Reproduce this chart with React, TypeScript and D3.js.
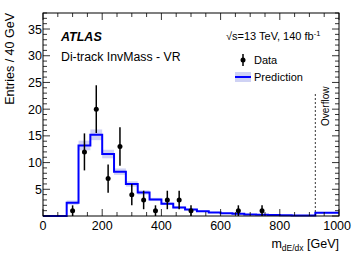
import React from "react";
import * as d3 from "d3";

const binEdges = [0, 40, 80, 120, 160, 200, 240, 280, 320, 360, 400, 440, 480, 520, 560, 600, 640, 680, 720, 760, 800, 840, 880, 920, 1000];
const prediction = [0, 0, 2.5, 13.2, 15.2, 11.6, 8.3, 6.0, 4.4, 3.1, 2.3, 1.6, 1.2, 0.9, 0.65, 0.5, 0.4, 0.3, 0.25, 0.2, 0.15, 0.1, 0.1, 0.6];
const predErr = [0, 0, 0.4, 0.9, 1.0, 0.8, 0.6, 0.5, 0.4, 0.3, 0.25, 0.2, 0.15, 0.12, 0.1, 0.08, 0.07, 0.06, 0.05, 0.05, 0.04, 0.03, 0.03, 0.1];
const dataX = [100, 140, 180, 220, 260, 300, 340, 380, 420, 460, 500, 660, 740];
const dataY = [1, 12, 20, 7, 13, 4, 3, 1, 3, 3, 1, 1, 1];
const xTicks = [0, 200, 400, 600, 800, 1000];
const yTicks = [5, 10, 15, 20, 25, 30, 35];

const W = 357, H = 263;
const L = 43, R = 339, T = 13, B = 216;
const FONT = "'Liberation Sans', Arial, Helvetica, sans-serif";

export default function App() {
  const x = d3.scaleLinear().domain([0, 1000]).range([L, R]);
  const y = d3.scaleLinear().domain([0, 38]).range([B, T]);

  const stepPts: [number, number][] = [];
  prediction.forEach((v, i) => {
    stepPts.push([x(binEdges[i]), y(v)]);
    stepPts.push([x(binEdges[i + 1]), y(v)]);
  });
  const line = d3.line<[number, number]>().x(d => d[0]).y(d => d[1]);

  const xMinor = d3.range(0, 1001, 50);
  const yMinor = d3.range(0, 39, 1);

  return (
    <svg width={W} height={H} style={{ position: "absolute", left: 0, top: 0, background: "#fff" }}>
      {prediction.map((v, i) => (
        predErr[i] > 0 ? (
          <rect key={"b" + i} x={x(binEdges[i])} y={y(v + predErr[i])}
            width={x(binEdges[i + 1]) - x(binEdges[i])}
            height={y(v - predErr[i]) - y(v + predErr[i])}
            fill="#cfd2f4" />
        ) : null
      ))}
      <path d={line(stepPts) || ""} fill="none" stroke="#0000ff" strokeWidth={2} />
      <line x1={x(920)} x2={x(920)} y1={94} y2={B} stroke="#000" strokeWidth={0.8} strokeDasharray="2,2" />
      <text transform={`translate(${x(920) + 14},${126}) rotate(-90)`} fontFamily={FONT} fontSize={10} fill="#000">Overflow</text>
      {dataX.map((dx, i) => {
        const n = dataY[i];
        const e = Math.sqrt(n);
        return (
          <g key={"d" + i}>
            <line x1={x(dx)} x2={x(dx)} y1={y(n + e)} y2={y(Math.max(0, n - e))} stroke="#000" strokeWidth={1.5} />
            <circle cx={x(dx)} cy={y(n)} r={2.5} fill="#000" />
          </g>
        );
      })}
      <rect x={L} y={T} width={R - L} height={B - T} fill="none" stroke="#000" strokeWidth={1} />
      {xMinor.map(v => {
        const major = v % 200 === 0;
        const len = major ? 7 : 4;
        return (
          <g key={"xt" + v}>
            <line x1={x(v)} x2={x(v)} y1={B} y2={B - len} stroke="#000" strokeWidth={0.8} />
            <line x1={x(v)} x2={x(v)} y1={T} y2={T + len} stroke="#000" strokeWidth={0.8} />
          </g>
        );
      })}
      {yMinor.map(v => {
        const major = v % 5 === 0;
        const len = major ? 7 : 4;
        return (
          <g key={"yt" + v}>
            <line x1={L} x2={L + len} y1={y(v)} y2={y(v)} stroke="#000" strokeWidth={0.8} />
            <line x1={R} x2={R - len} y1={y(v)} y2={y(v)} stroke="#000" strokeWidth={0.8} />
          </g>
        );
      })}
      {xTicks.map(v => (
        <text key={"xl" + v} x={x(v)} y={B + 14} textAnchor={v === 1000 ? "end" : "middle"} dx={v === 1000 ? 12 : 0}
          fontFamily={FONT} fontSize={12.5} fill="#000">{v}</text>
      ))}
      {yTicks.map(v => (
        <text key={"yl" + v} x={L - 1} y={y(v) + 4.5} textAnchor="end" fontFamily={FONT} fontSize={12.5} fill="#000">{v}</text>
      ))}
      <text transform={`translate(14,${T}) rotate(-90)`} textAnchor="end" fontFamily={FONT} fontSize={12.5} fill="#000">Entries / 40 GeV</text>
      <text x={R} y={248} textAnchor="end" fontFamily={FONT} fontSize={12.5} fill="#000">
        m<tspan fontSize={8.5} dy={3}>dE/dx</tspan><tspan dy={-3}> [GeV]</tspan>
      </text>
      <text x={61} y={41} fontFamily={FONT} fontSize={12.5} fontWeight="bold" fontStyle="italic" fill="#000">ATLAS</text>
      <text x={61} y={61} fontFamily={FONT} fontSize={12.3} fill="#000">Di-track InvMass - VR</text>
      <text x={226} y={40} fontFamily={FONT} fontSize={11} fill="#000">
        √s=13 TeV, 140 fb<tspan fontSize={7.5} dy={-4}>-1</tspan>
      </text>
      <line x1={243} x2={243} y1={54} y2={66} stroke="#000" strokeWidth={1.5} />
      <circle cx={243} cy={60} r={2.5} fill="#000" />
      <text x={254} y={64} fontFamily={FONT} fontSize={11} fill="#000">Data</text>
      <rect x={235} y={72} width={16} height={10} fill="#cfd2f4" />
      <line x1={235} x2={251} y1={77} y2={77} stroke="#0000ff" strokeWidth={2} />
      <text x={254} y={81} fontFamily={FONT} fontSize={11} fill="#000">Prediction</text>
    </svg>
  );
}
